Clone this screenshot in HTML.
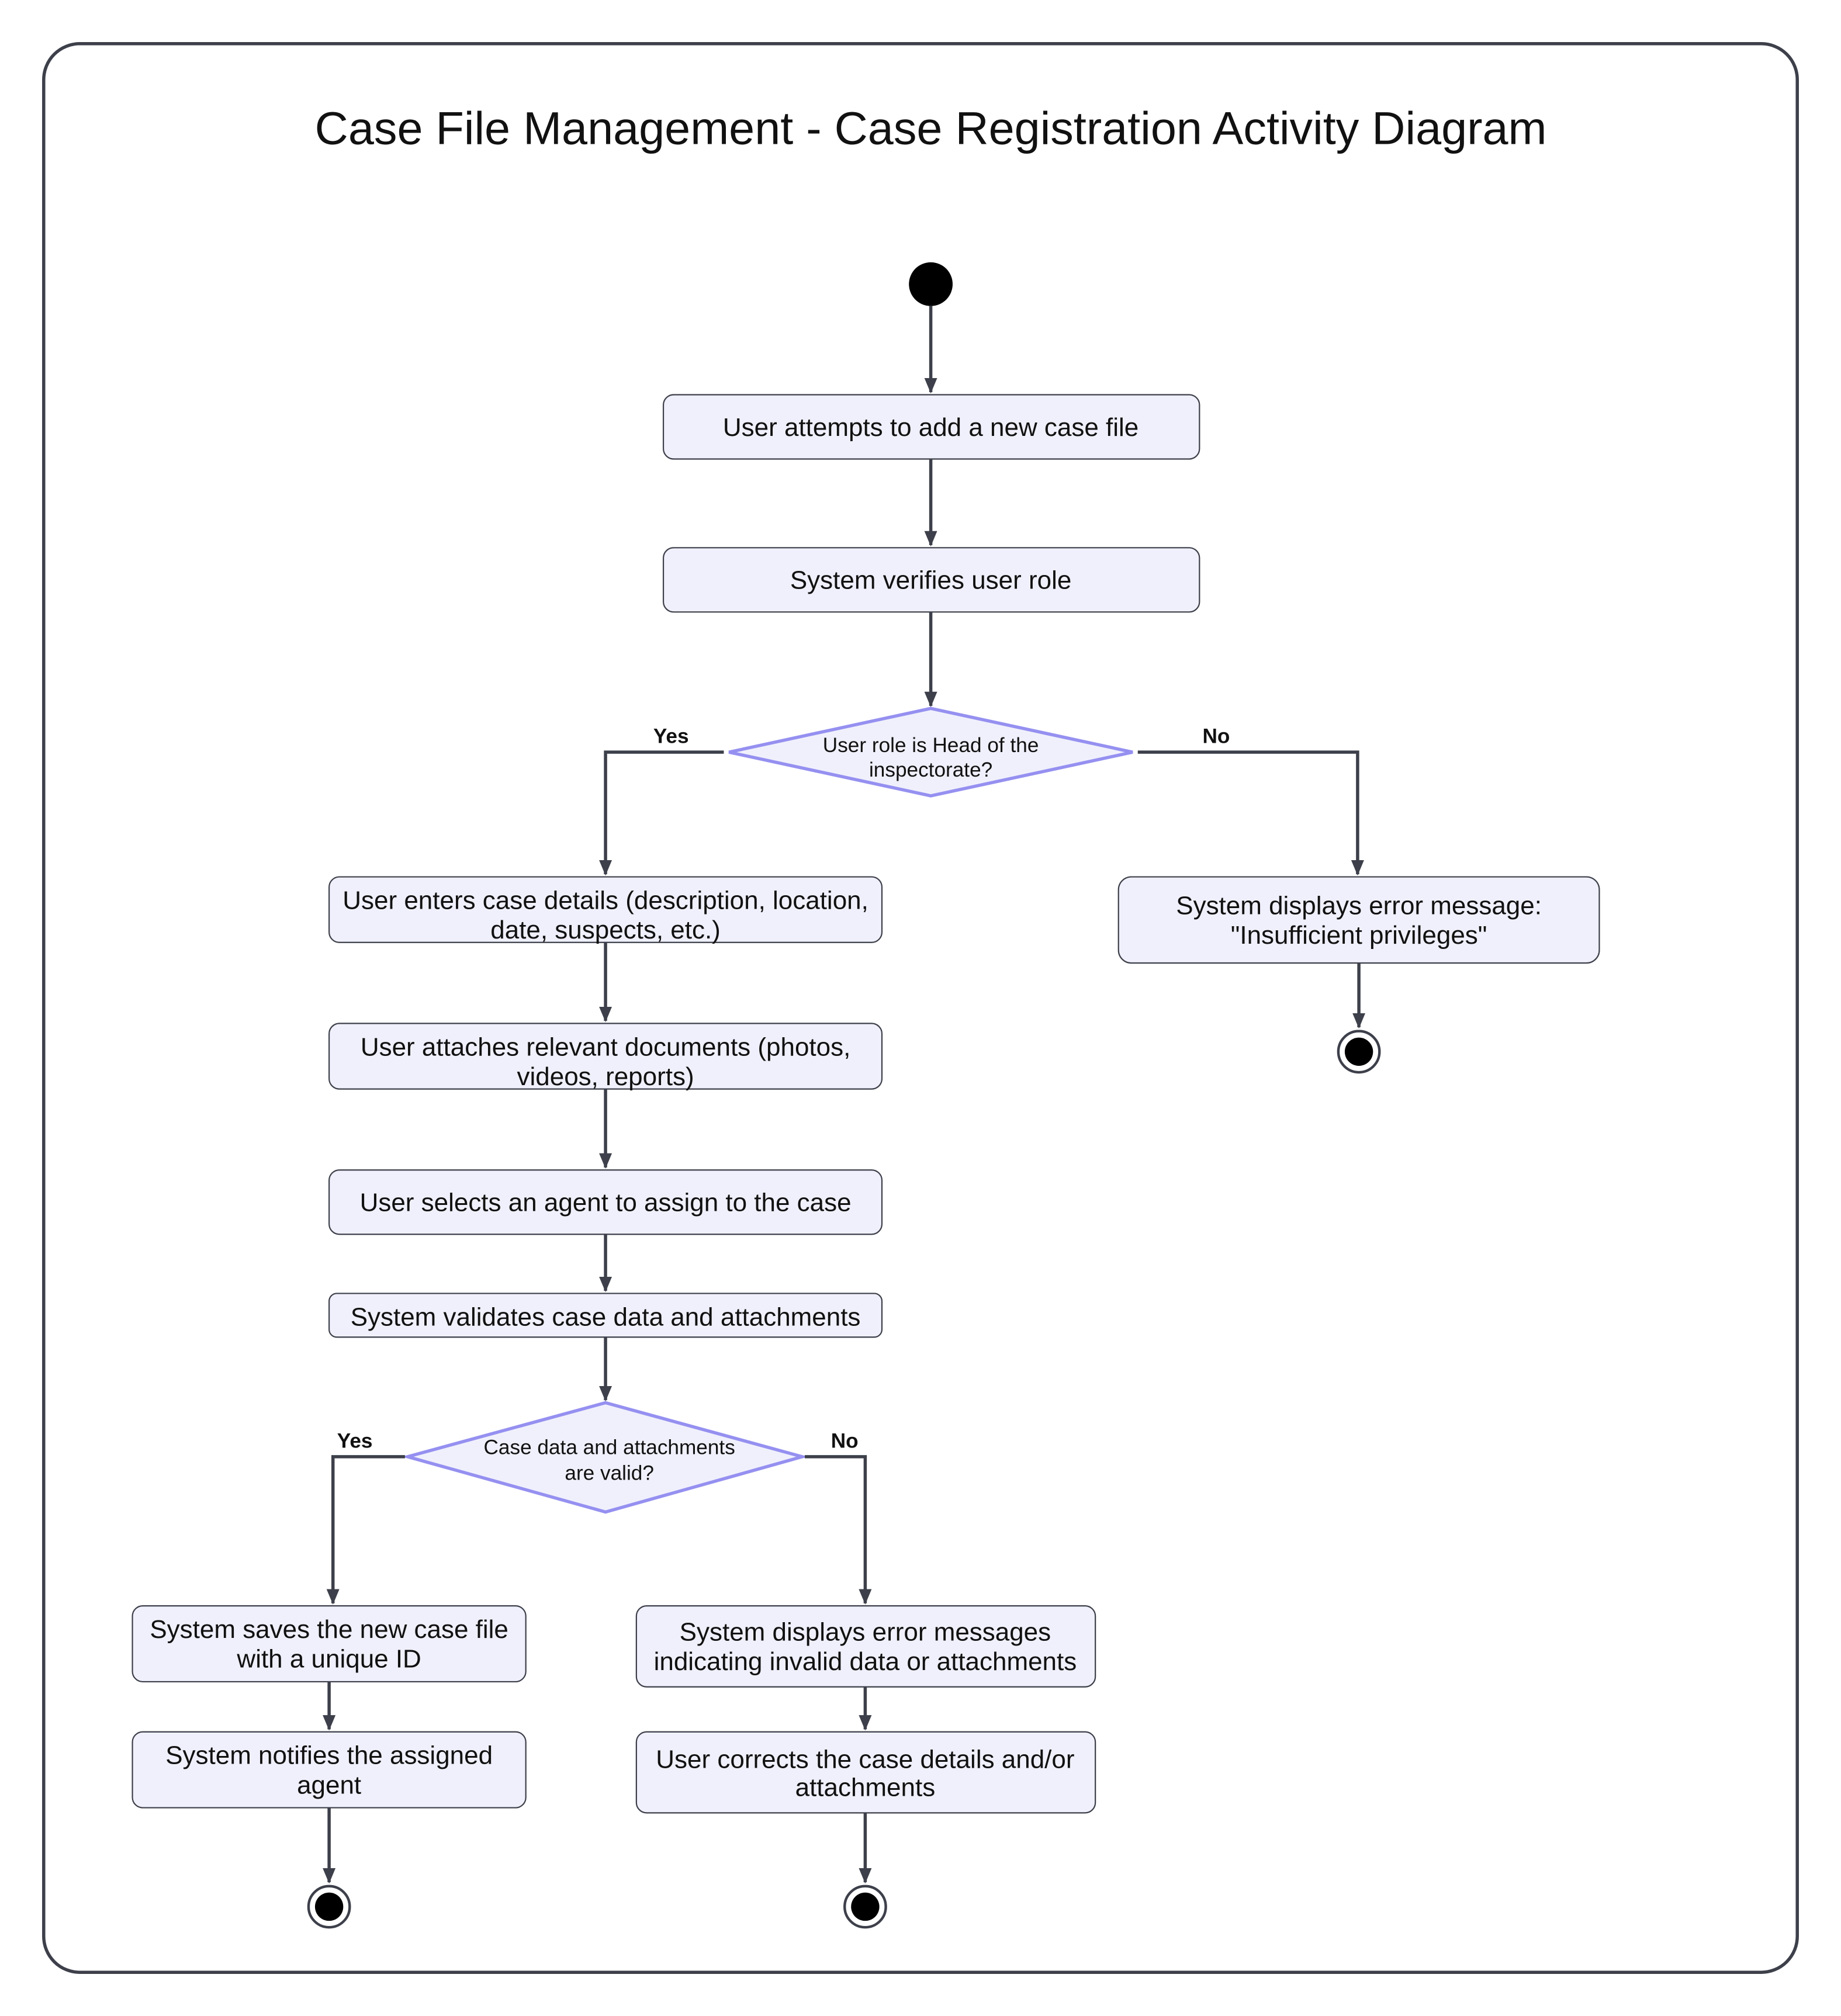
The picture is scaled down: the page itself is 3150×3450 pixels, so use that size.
<!DOCTYPE html>
<html><head><meta charset="utf-8"><style>
html,body{margin:0;padding:0;background:#fff;}
svg{display:block;}
text{font-family:"Liberation Sans",sans-serif;fill:#111;}
.b{fill:#f0f0fc;stroke:#3d404a;stroke-width:1;}
.d{fill:#f0f0fc;stroke:#9590f0;stroke-width:2.5;}
.l{fill:none;stroke:#3d404a;stroke-width:2.5;}
.t{font-size:20px;text-anchor:middle;}
.s{font-size:16px;text-anchor:middle;}
.y{font-size:16px;font-weight:bold;text-anchor:middle;}
</style></head><body>
<svg width="3150" height="3450" viewBox="0 0 1432 1568" preserveAspectRatio="none" xmlns="http://www.w3.org/2000/svg">
<defs><marker id="a" markerWidth="12" markerHeight="10" refX="11" refY="5" orient="auto" markerUnits="userSpaceOnUse"><path d="M0,0 L12,5 L0,10 z" fill="#3d404a"/></marker></defs>
<rect x="34" y="34" width="1364" height="1500" rx="28" fill="#fff" stroke="#3d404a" stroke-width="2.5"/>
<text x="724" y="112" style="font-size:36px;text-anchor:middle">Case File Management - Case Registration Activity Diagram</text>
<circle cx="724" cy="221" r="17" fill="#000"/>
<path class="l" marker-end="url(#a)" d="M724,238 V305"/>
<rect class="b" x="516" y="307" width="417" height="50" rx="8"/>
<text class="t" x="724" y="339">User attempts to add a new case file</text>
<path class="l" marker-end="url(#a)" d="M724,357 V424"/>
<rect class="b" x="516" y="426" width="417" height="50" rx="8"/>
<text class="t" x="724" y="458">System verifies user role</text>
<path class="l" marker-end="url(#a)" d="M724,476 V549"/>
<polygon class="d" points="724,551 881,585 724,619 567,585"/>
<text class="s" x="724" y="585">User role is Head of the</text>
<text class="s" x="724" y="604">inspectorate?</text>
<path class="l" marker-end="url(#a)" d="M563,585 H471 V680"/>
<text class="y" x="522" y="578">Yes</text>
<path class="l" marker-end="url(#a)" d="M885,585 H1056 V680"/>
<text class="y" x="946" y="578">No</text>
<rect class="b" x="256" y="682" width="430" height="51" rx="8"/>
<text class="t" x="471" y="707">User enters case details (description, location,</text>
<text class="t" x="471" y="730">date, suspects, etc.)</text>
<rect class="b" x="870" y="682" width="374" height="67" rx="10"/>
<text class="t" x="1057" y="711">System displays error message:</text>
<text class="t" x="1057" y="734">"Insufficient privileges"</text>
<path class="l" marker-end="url(#a)" d="M1057,749 V799"/>
<circle cx="1057" cy="818" r="16" fill="#fff" stroke="#3d404a" stroke-width="2"/>
<circle cx="1057" cy="818" r="11" fill="#000"/>
<path class="l" marker-end="url(#a)" d="M471,733 V794"/>
<rect class="b" x="256" y="796" width="430" height="51" rx="8"/>
<text class="t" x="471" y="821">User attaches relevant documents (photos,</text>
<text class="t" x="471" y="844">videos, reports)</text>
<path class="l" marker-end="url(#a)" d="M471,847 V908"/>
<rect class="b" x="256" y="910" width="430" height="50" rx="8"/>
<text class="t" x="471" y="942">User selects an agent to assign to the case</text>
<path class="l" marker-end="url(#a)" d="M471,960 V1004"/>
<rect class="b" x="256" y="1006" width="430" height="34" rx="6"/>
<text class="t" x="471" y="1031">System validates case data and attachments</text>
<path class="l" marker-end="url(#a)" d="M471,1040 V1089"/>
<polygon class="d" points="471,1091 624,1133 471,1176 317,1133"/>
<text class="s" x="474" y="1131">Case data and attachments</text>
<text class="s" x="474" y="1151">are valid?</text>
<path class="l" marker-end="url(#a)" d="M315,1133 H259 V1247"/>
<text class="y" x="276" y="1126">Yes</text>
<path class="l" marker-end="url(#a)" d="M626,1133 H673 V1247"/>
<text class="y" x="657" y="1126">No</text>
<rect class="b" x="103" y="1249" width="306" height="59" rx="8"/>
<text class="t" x="256" y="1274">System saves the new case file</text>
<text class="t" x="256" y="1297">with a unique ID</text>
<path class="l" marker-end="url(#a)" d="M256,1308 V1345"/>
<rect class="b" x="103" y="1347" width="306" height="59" rx="8"/>
<text class="t" x="256" y="1372">System notifies the assigned</text>
<text class="t" x="256" y="1395">agent</text>
<path class="l" marker-end="url(#a)" d="M256,1406 V1464"/>
<circle cx="256" cy="1483" r="16" fill="#fff" stroke="#3d404a" stroke-width="2"/>
<circle cx="256" cy="1483" r="11" fill="#000"/>
<rect class="b" x="495" y="1249" width="357" height="63" rx="8"/>
<text class="t" x="673" y="1276">System displays error messages</text>
<text class="t" x="673" y="1299">indicating invalid data or attachments</text>
<path class="l" marker-end="url(#a)" d="M673,1312 V1345"/>
<rect class="b" x="495" y="1347" width="357" height="63" rx="8"/>
<text class="t" x="673" y="1375">User corrects the case details and/or</text>
<text class="t" x="673" y="1397">attachments</text>
<path class="l" marker-end="url(#a)" d="M673,1410 V1464"/>
<circle cx="673" cy="1483" r="16" fill="#fff" stroke="#3d404a" stroke-width="2"/>
<circle cx="673" cy="1483" r="11" fill="#000"/>
</svg>
</body></html>
